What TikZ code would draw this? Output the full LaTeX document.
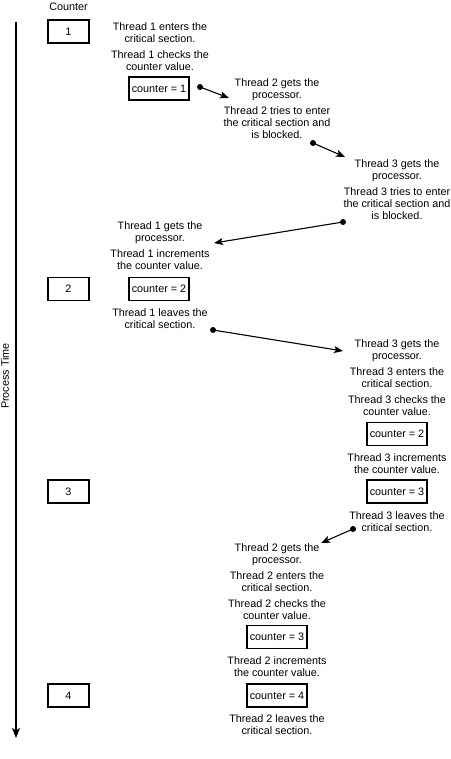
\documentclass[tikz,border=0pt]{standalone}
\usepackage{fontspec}
\setmainfont{Liberation Sans}
\usetikzlibrary{arrows.meta}
\tikzset{
  txt/.style={font=\fontsize{10.8}{12}\selectfont, align=center, anchor=north, inner sep=0pt},
  cbox/.style={draw, line width=1.3pt, minimum width=41pt, minimum height=23pt, inner sep=0pt, font=\fontsize{10.8}{12}\selectfont},
  vbox/.style={draw, line width=1.6pt, minimum width=60pt, minimum height=23pt, inner sep=0pt, font=\fontsize{10.8}{12}\selectfont},
  conn/.style={line width=1.1pt, -{Stealth[length=9pt,width=7pt,inset=2pt]}},
  dotmark/.style={fill=black},
}
\begin{document}
\begin{tikzpicture}[x=1pt,y=-1pt]
\useasboundingbox (0,0) rectangle (450,759);
% time axis
\node[font=\fontsize{10.8}{12}\selectfont, inner sep=0pt] (counterlbl) at (68.5,7) {Counter};
\node[font=\fontsize{10.8}{12}\selectfont, inner sep=0pt, rotate=90] (ptime) at (5,376) {Process Time};
\coordinate (axtop) at (16,22);
\coordinate (axbot) at (16,738);
\draw[line width=1.5pt, -{Stealth[length=10pt,width=8pt,inset=2.5pt]}] (axtop) -- (axbot);
% counter boxes
\node[cbox] (c1) at (68.5,31.5) {1};
\node[cbox] (c2) at (68.5,289) {2};
\node[cbox] (c3) at (68.5,491.5) {3};
\node[cbox] (c4) at (68.5,695.5) {4};
% thread 1 first
\node[txt] (t1a) at (160,22) {Thread 1 enters the\\critical section.\\[4pt]Thread 1 checks the\\counter value.};
\node[vbox] (v1) at (159,88.5) {counter = 1};
% thread 2 blocked
\node[txt] (t2a) at (277,78) {Thread 2 gets the\\processor.\\[4pt]Thread 2 tries to enter\\the critical section and\\is blocked.};
% thread 3 blocked
\node[txt] (t3a) at (397,159) {Thread 3 gets the\\processor.\\[4pt]Thread 3 tries to enter\\the critical section and\\is blocked.};
% thread 1 again
\node[txt] (t1b) at (160,221) {Thread 1 gets the\\processor.\\[4pt]Thread 1 increments\\the counter value.};
\node[vbox] (v2) at (159,289) {counter = 2};
\node[txt] (t1c) at (160,308) {Thread 1 leaves the\\critical section.};
% thread 3 again
\node[txt] (t3b) at (397,339) {Thread 3 gets the\\processor.\\[4pt]Thread 3 enters the\\critical section.\\[4pt]Thread 3 checks the\\counter value.};
\node[vbox] (v3) at (397,434) {counter = 2};
\node[txt] (t3c) at (397,453) {Thread 3 increments\\the counter value.};
\node[vbox] (v4) at (397,491.5) {counter = 3};
\node[txt] (t3d) at (397,511) {Thread 3 leaves the\\critical section.};
% thread 2 again
\node[txt] (t2b) at (277,543) {Thread 2 gets the\\processor.\\[4pt]Thread 2 enters the\\critical section.\\[4pt]Thread 2 checks the\\counter value.};
\node[vbox] (v5) at (277,637) {counter = 3};
\node[txt] (t2c) at (277,656) {Thread 2 increments\\the counter value.};
\node[vbox] (v6) at (277,695.5) {counter = 4};
\node[txt] (t2d) at (277,714) {Thread 2 leaves the\\critical section.};
% connectors
\coordinate (d1) at (200,87);  \coordinate (e1) at (229,98);
\coordinate (d2) at (313,143); \coordinate (e2) at (345,157);
\coordinate (d3) at (343,222); \coordinate (e3) at (214,243);
\coordinate (d4) at (213,330); \coordinate (e4) at (343,351);
\coordinate (d5) at (353,529); \coordinate (e5) at (321,543);
\foreach \i in {1,...,5}{
  \fill[dotmark] (d\i) circle (3pt);
  \draw[conn] (d\i) -- (e\i);
}
\end{tikzpicture}
\end{document}
